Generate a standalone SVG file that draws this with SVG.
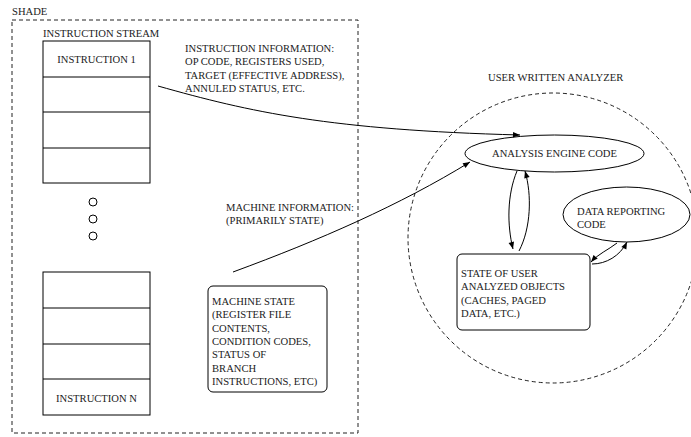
<svg xmlns="http://www.w3.org/2000/svg" width="691" height="437" viewBox="0 0 691 437">
<style>
text{font-family:"Liberation Serif","Times New Roman",serif;font-size:10.6px;fill:#222}
.mid{text-anchor:middle}
.ln{fill:none;stroke:#000;stroke-width:1}
.dash{fill:none;stroke:#222;stroke-width:1;stroke-dasharray:4,3}
.box{fill:#fff;stroke:#000;stroke-width:1}
</style>
<defs>
<marker id="ah" viewBox="0 0 10 10" refX="10" refY="5" markerWidth="9" markerHeight="7" markerUnits="userSpaceOnUse" orient="auto">
<path d="M0,1 L10,5 L0,9 Z" fill="#000"/>
</marker>
</defs>
<g id="shade">
<text x="12" y="15">SHADE</text>
<rect class="dash" x="12" y="20" width="346" height="413"/>
</g>
<g id="instruction-stream">
<text x="43" y="37">INSTRUCTION STREAM</text>
<rect class="box" x="43" y="41" width="107" height="142"/>
<path class="ln" d="M43,77H150M43,112H150M43,148H150"/>
<text class="mid" x="96.5" y="63">INSTRUCTION 1</text>
</g>
<g id="ellipsis">
<circle class="ln" cx="93" cy="202" r="4"/>
<circle class="ln" cx="93" cy="219" r="4"/>
<circle class="ln" cx="93" cy="236" r="4"/>
</g>
<g id="instruction-stream-end">
<rect class="box" x="43" y="272" width="107" height="143"/>
<path class="ln" d="M43,308H150M43,344H150M43,379H150"/>
<text class="mid" x="96.5" y="402">INSTRUCTION N</text>
</g>
<g id="instruction-info">
<text x="185" y="52">INSTRUCTION INFORMATION:</text>
<text x="185" y="65">OP CODE, REGISTERS USED,</text>
<text x="185" y="79">TARGET (EFFECTIVE ADDRESS),</text>
<text x="185" y="92">ANNULED STATUS, ETC.</text>
</g>
<g id="machine-info">
<text x="226" y="211">MACHINE INFORMATION:</text>
<text x="226" y="224">(PRIMARILY STATE)</text>
</g>
<g id="machine-state">
<rect class="box" x="208" y="286" width="119" height="106" rx="5"/>
<text x="212" y="305">MACHINE STATE</text>
<text x="212" y="318">(REGISTER FILE</text>
<text x="212" y="332">CONTENTS,</text>
<text x="212" y="345">CONDITION CODES,</text>
<text x="212" y="358">STATUS OF</text>
<text x="212" y="372">BRANCH</text>
<text x="212" y="385">INSTRUCTIONS, ETC)</text>
</g>
<g id="analyzer">
<text x="488" y="81">USER WRITTEN ANALYZER</text>
<circle class="dash" cx="553" cy="238" r="145"/>
</g>
<g id="analysis-engine">
<ellipse class="box" cx="554.5" cy="153.5" rx="89.5" ry="18.5"/>
<text class="mid" x="554.5" y="157">ANALYSIS ENGINE CODE</text>
</g>
<g id="data-reporting">
<ellipse class="box" cx="626.5" cy="214.5" rx="63.5" ry="27.5"/>
<text x="577" y="215">DATA REPORTING</text>
<text x="577" y="228">CODE</text>
</g>
<g id="user-state">
<rect class="box" x="457" y="254" width="133" height="76" rx="5"/>
<text x="461" y="277">STATE OF USER</text>
<text x="461" y="290">ANALYZED OBJECTS</text>
<text x="461" y="304">(CACHES, PAGED</text>
<text x="461" y="317">DATA, ETC.)</text>
</g>
<g id="connectors">
<path class="ln" marker-end="url(#ah)" d="M158,86 C250,112 330,130 520,135"/>
<path class="ln" marker-end="url(#ah)" d="M233,272 C320,240 400,205 470,162"/>
<path class="ln" marker-end="url(#ah)" d="M517,171 C507,195 507,225 513,249"/>
<path class="ln" marker-end="url(#ah)" d="M519,251 C531,228 532,195 525,171"/>
<path class="ln" marker-end="url(#ah)" d="M617,243 C608,250 598,254 591,262"/>
<path class="ln" marker-end="url(#ah)" d="M592,264 C606,264 620,256 627,242"/>
</g>
</svg>
